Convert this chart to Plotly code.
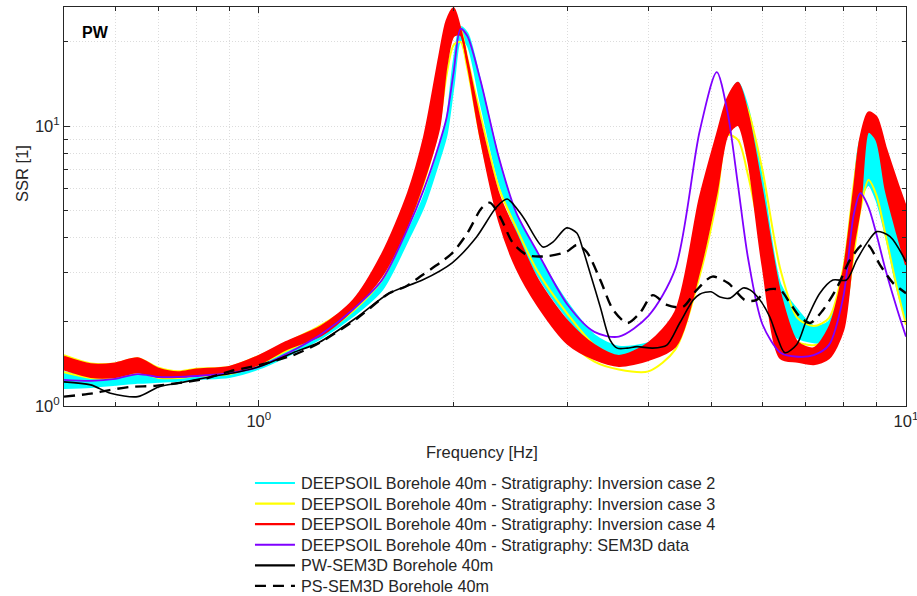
import plotly.graph_objects as go

# Frequency grid (Hz) shared by the DEEPSOIL spectra
FREQ = [0.5, 0.55, 0.6, 0.65, 0.7, 0.75, 0.8, 0.9, 1.0, 1.1, 1.25, 1.4, 1.55, 1.7, 1.8,
        1.9, 1.95, 2.0, 2.05, 2.1, 2.2, 2.35, 2.5, 2.7, 3.0, 3.3, 3.6, 4.0, 4.4, 4.8,
        5.1, 5.3, 5.5, 5.7, 6.0, 6.4, 6.8, 7.2, 7.6, 8.0, 8.3, 8.5, 8.75, 9.0, 9.3, 9.7, 10.0]

# Inversion case 2 ensemble: upper and lower envelope of the SSR curves
CASE2_UPPER = [1.32, 1.27, 1.26, 1.29, 1.27, 1.27, 1.29, 1.32, 1.40, 1.55, 1.82, 2.20, 2.75, 4.19,
               5.63, 8.36, 10.4, 17.0, 22.6, 21.5, 14.4, 7.57, 4.78, 3.44, 2.33, 1.79, 1.63, 1.68,
               1.95, 4.82, 8.93, 12.4, 14.3, 11.6, 6.42, 2.71, 2.20, 1.93, 2.00, 3.06, 5.92, 8.93,
               9.85, 8.93, 6.69, 4.26, 3.27]
CASE2_LOWER = [1.16, 1.17, 1.19, 1.21, 1.22, 1.23, 1.25, 1.27, 1.36, 1.50, 1.75, 2.10, 2.60, 3.92,
               5.19, 7.57, 9.30, 14.0, 20.3, 19.5, 12.2, 6.32, 4.25, 2.92, 2.06, 1.61, 1.47, 1.52,
               1.72, 3.46, 6.69, 10.1, 11.0, 8.93, 4.62, 2.03, 1.75, 1.69, 1.69, 2.03, 3.61, 5.44,
               6.16, 5.44, 4.08, 2.60, 2.03]

# Inversion case 3 ensemble
CASE3_UPPER = [1.52, 1.42, 1.42, 1.48, 1.37, 1.33, 1.36, 1.38, 1.51, 1.68, 1.95, 2.33, 3.27, 5.23,
               8.21, 15.2, 20.7, 23.9, 22.4, 17.5, 11.0, 6.01, 4.33, 3.01, 2.13, 1.65, 1.50, 1.56,
               1.87, 4.43, 8.21, 11.4, 13.3, 11.4, 6.97, 3.06, 2.06, 1.93, 2.06, 3.11, 6.16, 8.93,
               11.0, 9.68, 6.97, 4.43, 3.38]
CASE3_LOWER = [1.32, 1.26, 1.26, 1.32, 1.26, 1.26, 1.28, 1.30, 1.41, 1.57, 1.81, 2.19, 2.82, 4.40,
               6.32, 10.1, 15.2, 19.5, 20.0, 16.1, 9.08, 4.81, 3.27, 2.35, 1.72, 1.44, 1.35, 1.33,
               1.59, 2.92, 5.44, 9.30, 8.93, 6.69, 3.76, 1.95, 1.69, 1.65, 1.72, 2.06, 3.46, 5.01,
               6.42, 5.67, 4.08, 2.60, 1.95]

# Inversion case 4 ensemble
CASE4_UPPER = [1.50, 1.41, 1.42, 1.48, 1.36, 1.32, 1.35, 1.38, 1.51, 1.69, 1.93, 2.39, 3.49, 5.77,
               9.15, 17.8, 23.8, 26.4, 22.1, 17.2, 10.3, 5.68, 4.12, 2.82, 2.01, 1.65, 1.51, 1.68,
               2.17, 5.54, 9.30, 12.6, 14.3, 11.0, 5.82, 2.51, 1.69, 1.61, 1.90, 3.01, 5.82, 9.08,
               11.2, 10.8, 8.43, 6.27, 5.14]
CASE4_LOWER = [1.35, 1.27, 1.27, 1.32, 1.27, 1.27, 1.29, 1.31, 1.41, 1.59, 1.79, 2.22, 2.92, 4.47,
               6.42, 9.85, 16.4, 21.0, 21.2, 16.8, 9.08, 4.58, 3.11, 2.28, 1.67, 1.47, 1.39, 1.46,
               1.63, 3.06, 5.82, 9.30, 10.1, 7.57, 3.19, 1.48, 1.44, 1.41, 1.48, 1.87, 3.73, 5.14,
               9.54, 8.93, 5.92, 4.09, 3.19]

# DEEPSOIL with SEM3D stratigraphy
SEM3D_STRAT = [1.24, 1.23, 1.25, 1.30, 1.27, 1.27, 1.28, 1.31, 1.38, 1.53, 1.81, 2.22, 2.82, 4.33,
               5.97, 8.64, 10.7, 15.6, 22.3, 21.0, 14.6, 7.70, 4.90, 3.52, 2.30, 1.84, 1.77, 2.10,
               3.09, 9.61, 15.6, 11.2, 6.16, 3.38, 1.96, 1.55, 1.50, 1.52, 1.65, 2.45, 4.81, 5.77,
               5.14, 4.12, 3.06, 2.20, 1.77]

# PW-SEM3D borehole record
PW_FREQ = [0.5, 0.55, 0.59, 0.65, 0.70, 0.755, 0.84, 0.925, 1.0, 1.13, 1.24, 1.42, 1.59, 1.79,
           1.99, 2.17, 2.33, 2.42, 2.56, 2.75, 2.85, 2.99, 3.10, 3.17, 3.25, 3.37, 3.49, 3.58,
           3.71, 3.84, 4.06, 4.27, 4.47, 4.69, 4.80, 5.00, 5.16, 5.35, 5.60, 5.74, 5.95, 6.16,
           6.32, 6.50, 6.78, 7.02, 7.36, 7.71, 8.09, 8.39, 8.70, 9.01, 9.45, 10.0]
PW_SSR = [1.22, 1.19, 1.11, 1.08, 1.17, 1.21, 1.27, 1.32, 1.38, 1.55, 1.69, 2.08, 2.53, 2.82,
          3.25, 4.02, 5.14, 5.49, 4.74, 3.70, 3.86, 4.33, 4.15, 3.61, 2.99, 2.26, 1.72, 1.61,
          1.61, 1.63, 1.61, 1.65, 1.98, 2.39, 2.51, 2.56, 2.45, 2.43, 2.64, 2.60, 2.39, 2.08,
          1.77, 1.55, 1.66, 2.03, 2.53, 2.82, 2.82, 3.32, 3.82, 4.20, 4.03, 3.28]

# PS-SEM3D borehole record
PS_FREQ = [0.5, 0.554, 0.588, 0.632, 0.691, 0.755, 0.825, 0.902, 1.0, 1.13, 1.24, 1.42, 1.59,
           1.69, 1.79, 1.905, 1.99, 2.10, 2.21, 2.275, 2.36, 2.47, 2.60, 2.79, 2.99, 3.10, 3.21,
           3.37, 3.53, 3.71, 3.88, 4.06, 4.27, 4.52, 4.75, 5.02, 5.31, 5.64, 5.87, 6.10, 6.39,
           6.62, 6.86, 7.11, 7.44, 7.83, 8.19, 8.55, 8.74, 9.12, 9.55, 10.0]
PS_SSR = [1.08, 1.11, 1.14, 1.17, 1.18, 1.21, 1.25, 1.33, 1.40, 1.52, 1.68, 2.06, 2.53, 2.68,
          2.94, 3.25, 3.52, 4.15, 5.10, 5.33, 4.74, 3.82, 3.46, 3.43, 3.56, 3.76, 3.56, 2.82,
          2.20, 1.98, 2.15, 2.49, 2.30, 2.26, 2.60, 2.90, 2.75, 2.39, 2.39, 2.60, 2.60, 2.33,
          2.08, 1.98, 2.20, 2.66, 3.32, 3.76, 3.76, 3.19, 2.75, 2.53]

NAMES = [
    "DEEPSOIL Borehole 40m - Stratigraphy: Inversion case 2",
    "DEEPSOIL Borehole 40m - Stratigraphy: Inversion case 3",
    "DEEPSOIL Borehole 40m - Stratigraphy: Inversion case 4",
    "DEEPSOIL Borehole 40m - Stratigraphy: SEM3D data",
    "PW-SEM3D Borehole 40m",
    "PS-SEM3D Borehole 40m",
]
COLORS = ["#00ffff", "#ffff00", "#ff0000", "#7f00ff", "#000000", "#000000"]
DASHES = ["solid", "solid", "solid", "solid", "solid", "11px,7px"]

X_TICKS = [1, 10]
X_TICKTEXT = ["10<sup>0</sup>", "10<sup>1</sup>"]
X_MINOR = [0.6, 0.7, 0.8, 0.9, 2, 3, 4, 5, 6, 7, 8, 9]
Y_TICKS = [1, 10]
Y_TICKTEXT = ["10<sup>0</sup>", "10<sup>1</sup>"]
Y_MINOR = [2, 3, 4, 5, 6, 7, 8, 9, 20]

SMOOTH = 0.8
FONT = "Liberation Sans, Arial, sans-serif"
AXIS_COLOR = "#262626"
GRID_COLOR = "#dcdcdc"
GRID_DASH = "1px,2px"

fig = go.Figure()


def add_band(upper, lower, color, fill):
    if fill:
        fig.add_trace(go.Scatter(
            x=FREQ + FREQ[::-1], y=upper + lower[::-1], mode="lines", fill="toself",
            fillcolor=color, line=dict(width=0, color=color, shape="spline", smoothing=SMOOTH),
            showlegend=False, hoverinfo="skip"))
    for curve in (upper, lower):
        fig.add_trace(go.Scatter(
            x=FREQ, y=curve, mode="lines", showlegend=False,
            line=dict(color=color, width=2, shape="spline", smoothing=SMOOTH)))


add_band(CASE2_UPPER, CASE2_LOWER, COLORS[0], True)
add_band(CASE3_UPPER, CASE3_LOWER, COLORS[1], False)
add_band(CASE4_UPPER, CASE4_LOWER, COLORS[2], True)

fig.add_trace(go.Scatter(x=FREQ, y=SEM3D_STRAT, mode="lines", showlegend=False,
                         line=dict(color=COLORS[3], width=1.8, shape="spline", smoothing=SMOOTH)))
fig.add_trace(go.Scatter(x=PW_FREQ, y=PW_SSR, mode="lines", showlegend=False,
                         line=dict(color=COLORS[4], width=1.6, shape="spline", smoothing=SMOOTH)))
fig.add_trace(go.Scatter(x=PS_FREQ, y=PS_SSR, mode="lines", showlegend=False,
                         line=dict(color=COLORS[5], width=2.4, dash=DASHES[5],
                                   shape="spline", smoothing=SMOOTH)))

axis_common = dict(
    type="log", showline=True, linecolor=AXIS_COLOR, linewidth=1, mirror="allticks",
    ticks="inside", ticklen=6, tickcolor=AXIS_COLOR, tickmode="array", automargin=False,
    showgrid=True, gridcolor=GRID_COLOR, griddash=GRID_DASH, gridwidth=1, zeroline=False,
    tickfont=dict(family=FONT, size=16.5, color=AXIS_COLOR),
)
minor_common = dict(ticks="inside", ticklen=4, tickcolor=AXIS_COLOR,
                    showgrid=True, gridcolor=GRID_COLOR, griddash=GRID_DASH, gridwidth=1)

fig.update_xaxes(**axis_common, range=[-0.30103, 1.0], tickvals=X_TICKS, ticktext=X_TICKTEXT,
                 ticklabeloverflow="allow", minor=dict(tickvals=X_MINOR, **minor_common))
fig.update_yaxes(**axis_common, range=[0.0, 1.426], tickvals=Y_TICKS, ticktext=Y_TICKTEXT,
                 minor=dict(tickvals=Y_MINOR, **minor_common))

# Legend block below the axes: a short line sample followed by the series name
LEG_X0, LEG_X1, LEG_TEXT_X = 0.2268, 0.2743, 0.2790
LEG_Y0, LEG_STEP = -0.193, 0.0516
shapes = []
annotations = []
for i, (name, color, dash) in enumerate(zip(NAMES, COLORS, DASHES)):
    yy = LEG_Y0 - i * LEG_STEP
    shapes.append(dict(type="line", xref="paper", yref="paper", x0=LEG_X0, x1=LEG_X1,
                       y0=yy, y1=yy, line=dict(color=color, width=2.2, dash=dash)))
    annotations.append(dict(text=name, xref="paper", yref="paper", x=LEG_TEXT_X, y=yy,
                            xanchor="left", yanchor="middle", showarrow=False,
                            font=dict(family=FONT, size=16.2, color=AXIS_COLOR)))

annotations += [
    dict(text="<b>PW</b>", xref="paper", yref="paper", x=0.019, y=0.937,
         xanchor="left", yanchor="middle", showarrow=False,
         font=dict(family=FONT, size=16, color="#000000")),
    dict(text="Frequency [Hz]", xref="paper", yref="paper", x=0.497, y=-0.1153,
         xanchor="center", yanchor="middle", showarrow=False,
         font=dict(family=FONT, size=16.5, color=AXIS_COLOR)),
    dict(text="SSR [1]", xref="paper", yref="paper", x=-0.0499, y=0.584,
         xanchor="center", yanchor="middle", textangle=-90, showarrow=False,
         font=dict(family=FONT, size=16.5, color=AXIS_COLOR)),
]

fig.update_layout(
    width=917, height=596,
    margin=dict(l=64, r=11, t=7, b=190, autoexpand=False),
    paper_bgcolor="white", plot_bgcolor="white",
    font=dict(family=FONT, size=15, color=AXIS_COLOR),
    showlegend=False,
    shapes=shapes,
    annotations=annotations,
)

fig.write_html("out.html")
